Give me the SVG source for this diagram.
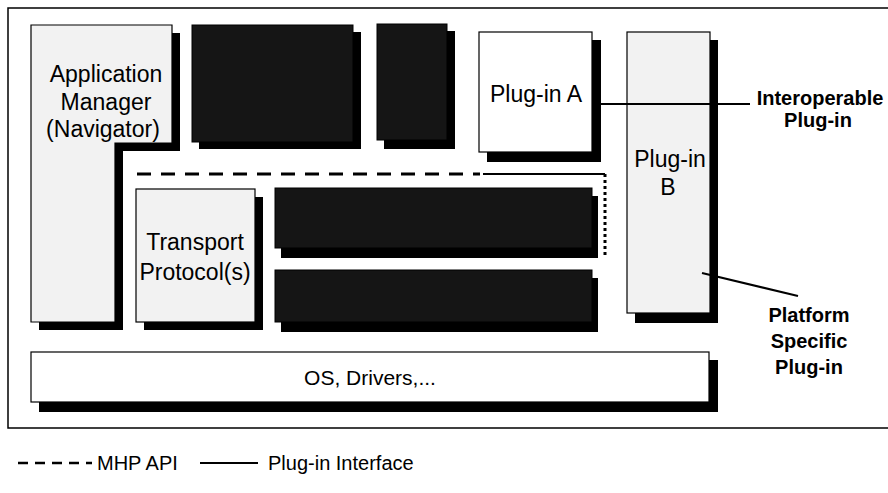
<svg xmlns="http://www.w3.org/2000/svg" width="888" height="493" viewBox="0 0 888 493">
<style>
.frame{stroke:#000;stroke-width:1.5;fill:none}
.box{fill:#f2f2f2;stroke:#000;stroke-width:1.2}
.wbox{fill:#fff;stroke:#000;stroke-width:1.2}
.dark{fill:#151515;stroke:#000;stroke-width:1}
.shadow{fill:#000}
.lbl{font-family:"Liberation Sans",Arial,sans-serif;font-size:23px;fill:#000;text-anchor:middle}
.blbl{font-family:"Liberation Sans",Arial,sans-serif;font-size:20px;font-weight:bold;fill:#000;text-anchor:middle}
.leg{font-family:"Liberation Sans",Arial,sans-serif;font-size:20px;fill:#000}
.api{stroke:#000;stroke-width:3;stroke-dasharray:14 10;fill:none}
.pif{stroke:#000;stroke-width:2;fill:none}
</style>
<rect width="888" height="493" fill="#fff"/>
<g id="frame">
<path class="frame" d="M888,8 H8 V428 H888"/>
</g>
<g id="app-manager">
<polygon class="shadow" points="39,33 180,33 180,151 123,151 123,330 39,330"/>
<polygon class="box" points="31,25 172,25 172,143 115,143 115,322 31,322"/>
<text class="lbl" x="106" y="82">Application</text>
<text class="lbl" x="106" y="110">Manager</text>
<text class="lbl" x="103" y="137">(Navigator)</text>
</g>
<g id="dark-box-1">
<rect class="shadow" x="199" y="32" width="162" height="117"/>
<rect class="dark" x="192" y="25" width="161" height="117"/>
</g>
<g id="dark-box-2">
<rect class="shadow" x="384" y="31" width="71" height="118"/>
<rect class="dark" x="377" y="24" width="70" height="116"/>
</g>
<g id="plugin-a">
<rect class="shadow" x="487" y="40" width="114" height="122"/>
<rect class="wbox" x="479" y="32" width="113" height="120"/>
<text class="lbl" x="536" y="102">Plug-in A</text>
</g>
<g id="plugin-b">
<rect class="shadow" x="635" y="40" width="83" height="283"/>
<rect class="box" x="627" y="32" width="83" height="281"/>
<text class="lbl" x="670" y="167">Plug-in</text>
<text class="lbl" x="668" y="195">B</text>
</g>
<g id="transport">
<rect class="shadow" x="144" y="197" width="119" height="133"/>
<rect class="box" x="136" y="189" width="119" height="133"/>
<text class="lbl" x="195" y="250">Transport</text>
<text class="lbl" x="195" y="280">Protocol(s)</text>
</g>
<g id="dark-box-3">
<rect class="shadow" x="281" y="196" width="317" height="62"/>
<rect class="dark" x="275" y="188" width="317" height="60"/>
</g>
<g id="dark-box-4">
<rect class="shadow" x="281" y="278" width="317" height="54"/>
<rect class="dark" x="275" y="270" width="317" height="52"/>
</g>
<g id="os">
<rect class="shadow" x="39" y="360" width="679" height="52"/>
<rect class="wbox" x="31" y="352" width="678" height="50"/>
<text class="lbl" x="370" y="385" style="font-size:21px">OS, Drivers,...</text>
</g>
<g id="connectors">
<line class="api" x1="137" y1="174" x2="480" y2="174"/>
<line class="pif" x1="483" y1="174" x2="605" y2="174"/>
<line x1="605" y1="174" x2="605" y2="257" stroke="#000" stroke-width="3" stroke-dasharray="3 3"/>
<line class="pif" x1="601" y1="104" x2="750" y2="104"/>
<line class="pif" x1="702" y1="273" x2="798" y2="296"/>
</g>
<g id="annotations">
<text class="blbl" x="820" y="105">Interoperable</text>
<text class="blbl" x="818" y="127">Plug-in</text>
<text class="blbl" x="809" y="322">Platform</text>
<text class="blbl" x="809" y="348">Specific</text>
<text class="blbl" x="809" y="374">Plug-in</text>
</g>
<g id="legend">
<line class="api" x1="18" y1="463" x2="92" y2="463" style="stroke-width:2.5;stroke-dasharray:10 7"/>
<text class="leg" x="97" y="470">MHP API</text>
<line class="pif" x1="200" y1="463" x2="258" y2="463"/>
<text class="leg" x="268" y="470">Plug-in Interface</text>
</g>
</svg>
